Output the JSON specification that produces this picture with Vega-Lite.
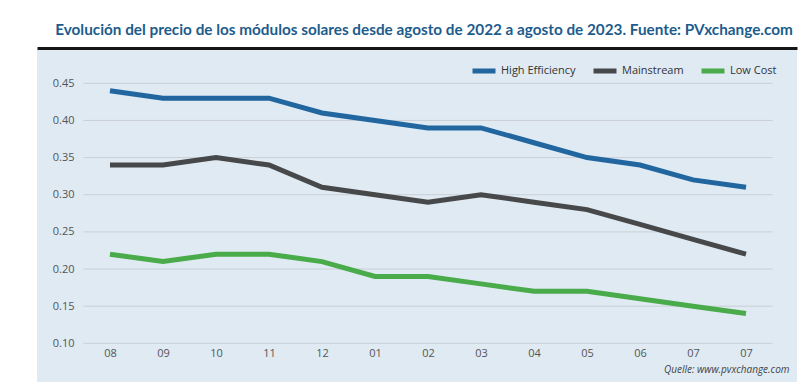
{
  "$schema": "https://vega.github.io/schema/vega-lite/v6.json",
  "width": 760,
  "height": 333,
  "autosize": {"type": "none"},
  "padding": {"left": 37, "top": 49, "right": 6, "bottom": 10},
  "background": "#ffffff",
  "config": {
    "view": {"fill": "#dfeaf3", "stroke": null},
    "font": "Open Sans"
  },
  "title": {
    "text": "Evolución del precio de los módulos solares desde agosto de 2022 a agosto de 2023. Fuente: PVxchange.com",
    "font": "Lato",
    "fontWeight": "bold",
    "fontSize": 15.3,
    "color": "#1d5c8c",
    "anchor": "middle",
    "dx": 7,
    "offset": 10
  },
  "data": {
    "values": [
      {"i": 0, "mes": "08", "serie": "High Efficiency", "precio": 0.44},
      {"i": 1, "mes": "09", "serie": "High Efficiency", "precio": 0.43},
      {"i": 2, "mes": "10", "serie": "High Efficiency", "precio": 0.43},
      {"i": 3, "mes": "11", "serie": "High Efficiency", "precio": 0.43},
      {"i": 4, "mes": "12", "serie": "High Efficiency", "precio": 0.41},
      {"i": 5, "mes": "01", "serie": "High Efficiency", "precio": 0.40},
      {"i": 6, "mes": "02", "serie": "High Efficiency", "precio": 0.39},
      {"i": 7, "mes": "03", "serie": "High Efficiency", "precio": 0.39},
      {"i": 8, "mes": "04", "serie": "High Efficiency", "precio": 0.37},
      {"i": 9, "mes": "05", "serie": "High Efficiency", "precio": 0.35},
      {"i": 10, "mes": "06", "serie": "High Efficiency", "precio": 0.34},
      {"i": 11, "mes": "07", "serie": "High Efficiency", "precio": 0.32},
      {"i": 12, "mes": "07", "serie": "High Efficiency", "precio": 0.31},
      {"i": 0, "mes": "08", "serie": "Mainstream", "precio": 0.34},
      {"i": 1, "mes": "09", "serie": "Mainstream", "precio": 0.34},
      {"i": 2, "mes": "10", "serie": "Mainstream", "precio": 0.35},
      {"i": 3, "mes": "11", "serie": "Mainstream", "precio": 0.34},
      {"i": 4, "mes": "12", "serie": "Mainstream", "precio": 0.31},
      {"i": 5, "mes": "01", "serie": "Mainstream", "precio": 0.30},
      {"i": 6, "mes": "02", "serie": "Mainstream", "precio": 0.29},
      {"i": 7, "mes": "03", "serie": "Mainstream", "precio": 0.30},
      {"i": 8, "mes": "04", "serie": "Mainstream", "precio": 0.29},
      {"i": 9, "mes": "05", "serie": "Mainstream", "precio": 0.28},
      {"i": 10, "mes": "06", "serie": "Mainstream", "precio": 0.26},
      {"i": 11, "mes": "07", "serie": "Mainstream", "precio": 0.24},
      {"i": 12, "mes": "07", "serie": "Mainstream", "precio": 0.22},
      {"i": 0, "mes": "08", "serie": "Low Cost", "precio": 0.22},
      {"i": 1, "mes": "09", "serie": "Low Cost", "precio": 0.21},
      {"i": 2, "mes": "10", "serie": "Low Cost", "precio": 0.22},
      {"i": 3, "mes": "11", "serie": "Low Cost", "precio": 0.22},
      {"i": 4, "mes": "12", "serie": "Low Cost", "precio": 0.21},
      {"i": 5, "mes": "01", "serie": "Low Cost", "precio": 0.19},
      {"i": 6, "mes": "02", "serie": "Low Cost", "precio": 0.19},
      {"i": 7, "mes": "03", "serie": "Low Cost", "precio": 0.18},
      {"i": 8, "mes": "04", "serie": "Low Cost", "precio": 0.17},
      {"i": 9, "mes": "05", "serie": "Low Cost", "precio": 0.17},
      {"i": 10, "mes": "06", "serie": "Low Cost", "precio": 0.16},
      {"i": 11, "mes": "07", "serie": "Low Cost", "precio": 0.15},
      {"i": 12, "mes": "07", "serie": "Low Cost", "precio": 0.14}
    ]
  },
  "layer": [
    {
      "data": {"values": [{"v": 0.10}, {"v": 0.15}, {"v": 0.20}, {"v": 0.25}, {"v": 0.30}, {"v": 0.35}, {"v": 0.40}, {"v": 0.45}]},
      "mark": {"type": "rule", "color": "#c9cfd5", "strokeWidth": 1},
      "encoding": {
        "x": {
          "datum": -0.5,
          "type": "quantitative",
          "scale": {"domain": [-1.377, 12.962], "nice": false, "zero": false},
          "axis": {"orient": "top", "title": null, "labels": false, "ticks": false, "grid": false, "domain": true, "domainColor": "#161616", "domainWidth": 3, "offset": 1}
        },
        "x2": {"datum": 12.5},
        "y": {
          "field": "v",
          "type": "quantitative",
          "scale": {"domain": [0.0479, 0.4962], "nice": false, "zero": false},
          "axis": null
        }
      }
    },
    {
      "mark": {"type": "line", "strokeWidth": 5, "strokeCap": "butt", "strokeJoin": "miter"},
      "encoding": {
        "x": {
          "field": "i",
          "type": "quantitative",
          "scale": {"domain": [-1.377, 12.962], "nice": false, "zero": false},
          "axis": {
            "orient": "bottom",
            "values": [0, 1, 2, 3, 4, 5, 6, 7, 8, 9, 10, 11, 12],
            "labelExpr": "['08','09','10','11','12','01','02','03','04','05','06','07','07'][datum.value]",
            "offset": -39,
            "domain": false,
            "ticks": false,
            "tickSize": 0,
            "grid": false,
            "labelPadding": 4,
            "labelFontSize": 11,
            "labelColor": "#555555",
            "title": "Quelle: www.pvxchange.com",
            "titleFontStyle": "italic",
            "titleFontWeight": "normal",
            "titleFontSize": 10,
            "titleColor": "#444444",
            "titleAlign": "right",
            "titleX": 752,
            "titlePadding": 6
          }
        },
        "y": {
          "field": "precio",
          "type": "quantitative",
          "scale": {"domain": [0.0479, 0.4962], "nice": false, "zero": false},
          "axis": {
            "values": [0.10, 0.15, 0.20, 0.25, 0.30, 0.35, 0.40, 0.45],
            "format": ".2f",
            "offset": -46,
            "domain": false,
            "ticks": false,
            "tickSize": 0,
            "grid": false,
            "labelPadding": 9,
            "labelFontSize": 11,
            "labelColor": "#555555",
            "title": null
          }
        },
        "color": {
          "field": "serie",
          "type": "nominal",
          "scale": {"domain": ["High Efficiency", "Mainstream", "Low Cost"], "range": ["#21669f", "#47484a", "#4aab4a"]},
          "legend": {
            "title": null,
            "orient": "none",
            "legendX": 433,
            "legendY": 8,
            "direction": "horizontal",
            "symbolType": "stroke",
            "symbolStrokeWidth": 5,
            "symbolSize": 529,
            "labelFontSize": 11,
            "labelColor": "#333333",
            "labelOffset": 3,
            "columnPadding": 7,
            "padding": 0
          }
        }
      }
    }
  ],
  "resolve": {"axis": {"x": "independent", "y": "independent"}}
}
